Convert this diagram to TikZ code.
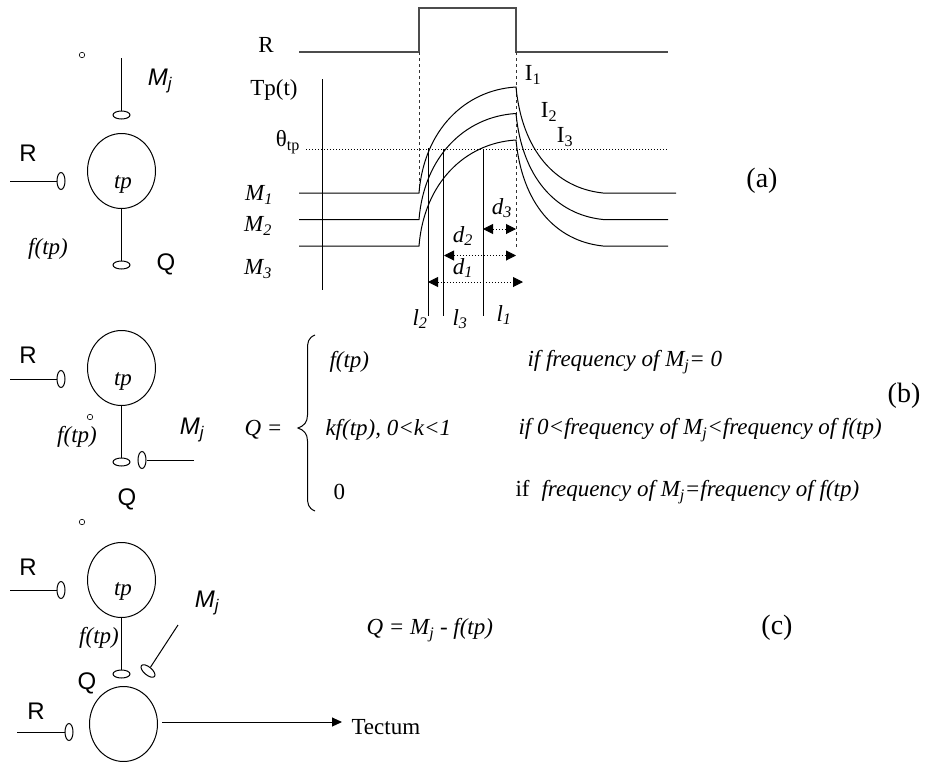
\documentclass[tikz,border=0pt]{standalone}
\usepackage{fontspec}
\setmainfont{Liberation Serif}
\setsansfont{Liberation Sans}
\usepackage{tikz}
\usetikzlibrary{
  shapes.geometric,
  arrows.meta}

\newcommand{\lab}[1]{\fontsize{#1}{#1}\selectfont}

\begin{document}
\begin{tikzpicture}[
  x=1pt,y=-1pt,
  line width=1pt,
  cell/.style={draw,ellipse,minimum width=68pt,minimum height=75pt,inner sep=0pt},
  synv/.style={draw,ellipse,minimum width=17pt,minimum height=8pt,inner sep=0pt},
  synh/.style={draw,ellipse,minimum width=8pt,minimum height=17pt,inner sep=0pt},
  dot/.style={draw,circle,minimum size=5.5pt,inner sep=0pt,line width=0.6pt},
  sanslab/.style={font=\sffamily\lab{24}},
  sanslabit/.style={font=\sffamily\itshape\lab{24}},
  serif/.style={font=\lab{23}},
  serifit/.style={font=\itshape\lab{23}},
  tag/.style={font=\lab{28}},
  eqn/.style={font=\itshape\lab{23},anchor=west,inner sep=0pt},
  level/.style={draw,line width=1.2pt},
  gap/.style={dotted,line width=1pt,{Triangle[length=10pt,width=10pt]}-{Triangle[length=10pt,width=10pt]}},
]
\useasboundingbox (0,0) rectangle (932,761);

% (a)
\node[cell] (tpa) at (121.5,171) {};
\node[serifit] (tpatxt) at (123,184) {tp};
\node[dot] (dota) at (82,55) {};
\coordinate (mjaend) at (121.5,58);
\node[synv] (mja) at (121.5,115) {};
\node[synh] (ra) at (61,181) {};
\coordinate (raend) at (10,181);
\node[synv] (qa) at (121.5,265) {};
\draw (mjaend) -- (mja);
\draw (raend) -- (ra);
\draw (tpa) -- (qa);
\node[sanslabit] (mjalab) at (160,81) {M\textsubscript{j}};
\node[sanslab] (ralab) at (28,153) {R};
\node[serifit] (fa) at (48,249) {f(tp)};
\node[sanslab] (qalab) at (166,264) {Q};

% traces
\draw[level,black!70] (299,52) -- (419,52) -- (419,8) -- (516,8) -- (516,52) -- (668,52);
\draw[dashed,line width=0.8pt,black!80] (419,52) -- (419,190) (516,52) -- (516,247);
\draw (322,79) -- (322,290);
\draw[dotted,line width=1pt] (306,149) -- (667,149);
\foreach \dy/\xe in {0/676,26.5/668,53/668}{
  \draw[yshift=-\dy pt] (299,193) -- (419,193)
    .. controls (424,130) and (465,90) .. (516,87)
    .. controls (522,150) and (555,188) .. (603,193) -- (\xe,193);
}
\draw (428,148) -- (428,316);
\draw (443.5,149) -- (443.5,316);
\draw (483,149) -- (483,316);
\coordinate (d3a) at (483,229);
\coordinate (d3b) at (516,229);
\coordinate (d2a) at (444,255.5);
\coordinate (d2b) at (516,255.5);
\coordinate (d1a) at (428,282);
\coordinate (d1b) at (523,282);
\draw[gap] (d3a) -- (d3b);
\draw[gap] (d2a) -- (d2b);
\draw[gap] (d1a) -- (d1b);
\node[serif] (rlab) at (266,45) {R};
\node[serif] (tplab) at (274,90) {Tp(t)};
\node[serif] (thlab) at (288,142) {θ\textsubscript{tp}};
\node[serifit] (m1) at (259,195) {M\textsubscript{1}};
\node[serifit] (m2) at (258,226) {M\textsubscript{2}};
\node[serifit] (m3) at (258,269) {M\textsubscript{3}};
\node[serif] (i1) at (533,75) {I\textsubscript{1}};
\node[serif] (i2) at (549,112) {I\textsubscript{2}};
\node[serif] (i3) at (565,137) {I\textsubscript{3}};
\node[serifit] (d3) at (502,208) {d\textsubscript{3}};
\node[serifit] (d2) at (463,236) {d\textsubscript{2}};
\node[serifit] (d1) at (463,268) {d\textsubscript{1}};
\node[serifit] (l2) at (420,319) {l\textsubscript{2}};
\node[serifit] (l3) at (460,319) {l\textsubscript{3}};
\node[serifit] (l1) at (504,315) {l\textsubscript{1}};
\node[tag] (taga) at (762,181) {(a)};

% (b)
\node[cell] (tpb) at (121.5,368) {};
\node[serifit] (tpbtxt) at (123,381) {tp};
\node[dot] (dotb) at (90,417) {};
\node[dot] (dotc) at (82,522) {};
\node[synh] (rb) at (61,379) {};
\coordinate (rbend) at (10,379);
\node[synv] (qb) at (121.5,462) {};
\node[synh] (mjb) at (142,460) {};
\coordinate (mjbend) at (194,460);
\draw (rbend) -- (rb);
\draw (tpb) -- (qb);
\draw (mjbend) -- (mjb);
\node[sanslab] (rblab) at (28,355) {R};
\node[serifit] (fb) at (77,437) {f(tp)};
\node[sanslabit] (mjblab) at (192,430) {M\textsubscript{j}};
\node[sanslab] (qblab) at (127,499) {Q};
\node[eqn] (qeq) at (244,430) {Q =};
\draw (315,335) .. controls (308,338) and (307.5,342) .. (307.5,350) -- (307.5,415)
  .. controls (307.5,422) and (304,426) .. (298,428)
  .. controls (304,430) and (307.5,434) .. (307.5,441) -- (307.5,496)
  .. controls (307.5,504) and (308,508) .. (315,511);
\node[eqn] (c1) at (329,362) {f(tp)};
\node[eqn] (c2) at (325,430) {kf(tp), 0<k<1};
\node[eqn,font=\lab{23}] (c3) at (333,492) {0};
\node[eqn] (e1) at (527,362) {if frequency of M\textsubscript{j}= 0};
\node[eqn] (e2) at (518,430) {if 0<frequency of M\textsubscript{j}<frequency of f(tp)};
\node[eqn] (e3) at (515,492) {\upshape if\kern12pt\itshape frequency of M\textsubscript{j}=frequency of f(tp)};
\node[tag] (tagb) at (904,396) {(b)};

% (c)
\node[cell] (tpc) at (121.5,580) {};
\node[serifit] (tpctxt) at (123,591) {tp};
\node[synh] (rc) at (61,590) {};
\coordinate (rcend) at (10,590);
\node[synv] (qc) at (121.5,674) {};
\node[synv,rotate=-40] (mjc) at (148,671) {};
\coordinate (mjcend) at (178,625);
\draw (rcend) -- (rc);
\draw (tpc) -- (qc);
\draw (mjcend) -- (mjc);
\node[sanslab] (rclab) at (28,567) {R};
\node[serifit] (fc) at (99,638) {f(tp)};
\node[sanslabit] (mjclab) at (207,603) {M\textsubscript{j}};
\node[sanslab] (qclab) at (87,683) {Q};
\node[eqn] (qc2) at (366,630) {Q = M\textsubscript{j} - f(tp)};
\node[tag] (tagc) at (777,628) {(c)};
\node[cell] (out) at (123.5,724) {};
\node[synh] (rd) at (69,732) {};
\coordinate (rdend) at (17,732);
\draw (rdend) -- (rd);
\node[sanslab] (rdlab) at (36,711) {R};
\node[serif,anchor=west,inner sep=0pt] (tect) at (351,727) {Tectum};
\coordinate (outend) at (162,722);
\draw[-{Triangle[length=10pt,width=9pt]}] (outend) -- (342,722);
\end{tikzpicture}
\end{document}
